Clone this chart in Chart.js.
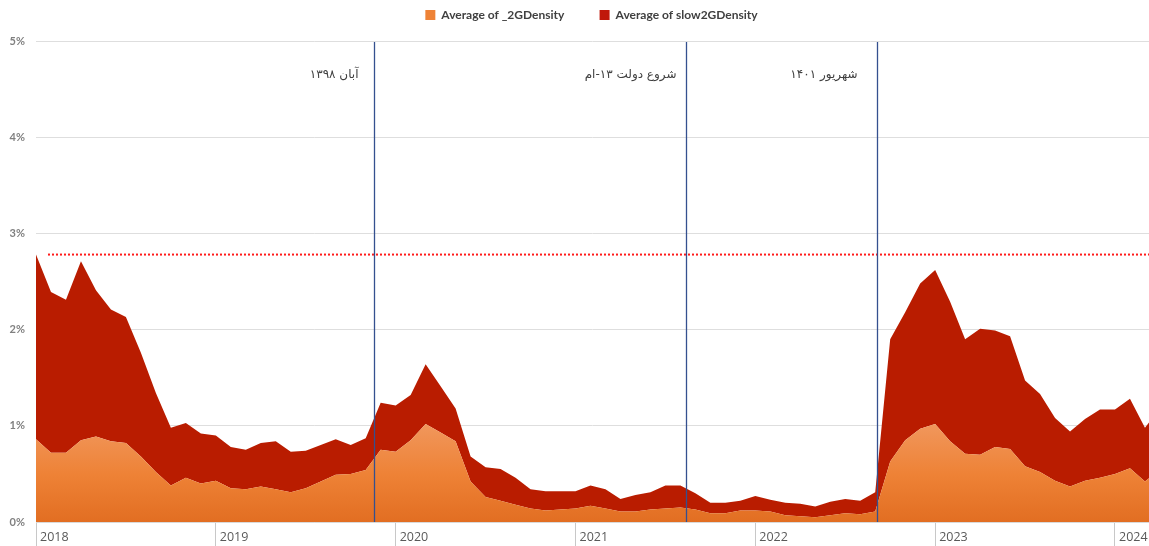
<!DOCTYPE html>
<html>
<head>
<meta charset="utf-8">
<title>2G density</title>
<script src="https://cdn.jsdelivr.net/npm/chart.js@4.4.1/dist/chart.umd.min.js"></script>
<style>
    html, body { margin: 0; padding: 0; background: #fff; }
    #wrap { width: 1149px; height: 546px; position: relative; }
</style>
</head>
<body>
<div id="wrap"><canvas id="densityChart"></canvas></div>
<script>
// Monthly averages from Jan 2018 (index 0), values in percent
const yearLabels = ['2018', '2019', '2020', '2021', '2022', '2023', '2024'];

const density2G = [
    0.86, 0.72, 0.72, 0.85, 0.89, 0.84, 0.82, 0.68, 0.52, 0.38, 0.46, 0.40,
    0.43, 0.35, 0.34, 0.37, 0.34, 0.31, 0.35, 0.42, 0.49, 0.50, 0.54, 0.75,
    0.73, 0.85, 1.02, 0.93, 0.84, 0.42, 0.26, 0.22, 0.18, 0.14, 0.12, 0.13,
    0.14, 0.17, 0.14, 0.11, 0.11, 0.13, 0.14, 0.15, 0.13, 0.09, 0.09, 0.12,
    0.12, 0.11, 0.07, 0.06, 0.05, 0.07, 0.09, 0.08, 0.11, 0.63, 0.85, 0.97,
    1.02, 0.84, 0.71, 0.70, 0.78, 0.76, 0.58, 0.52, 0.43, 0.37, 0.43, 0.46,
    0.50, 0.56, 0.42, 0.55
];

const slow2GDensity = [
    1.92, 1.67, 1.59, 1.86, 1.52, 1.37, 1.31, 1.08, 0.82, 0.60, 0.57, 0.52,
    0.47, 0.43, 0.41, 0.45, 0.50, 0.42, 0.39, 0.38, 0.37, 0.30, 0.33, 0.49,
    0.48, 0.47, 0.62, 0.48, 0.34, 0.26, 0.31, 0.33, 0.28, 0.20, 0.20, 0.19,
    0.18, 0.21, 0.20, 0.13, 0.17, 0.18, 0.24, 0.23, 0.17, 0.11, 0.11, 0.10,
    0.15, 0.12, 0.13, 0.13, 0.11, 0.14, 0.15, 0.14, 0.20, 1.27, 1.33, 1.51,
    1.60, 1.45, 1.19, 1.31, 1.21, 1.17, 0.89, 0.81, 0.65, 0.57, 0.64, 0.71,
    0.67, 0.72, 0.56, 0.63
];

const thresholdValue = 2.78;

// vertical event markers (month index) with their Persian captions
const events = [
    { month: 22.55, label: 'آبان ۱۳۹۸', gap: 16 },
    { month: 43.4, label: 'شروع دولت ۱۳-ام', gap: 10 },
    { month: 56.15, label: 'شهریور ۱۴۰۱', gap: 20 }
];

const xMax = 74.27;

const toPoints = arr => arr.map((v, i) => ({ x: i, y: v }));

// orange fill gets lighter toward the top like the original
function orangeFill(context) {
    const chart = context.chart;
    const area = chart.chartArea;
    if (!area) return '#ee8236';
    const top = chart.scales.y.getPixelForValue(1.1);
    const g = chart.ctx.createLinearGradient(0, top, 0, area.bottom);
    g.addColorStop(0, '#f19a62');
    g.addColorStop(0.55, '#ee8236');
    g.addColorStop(1, '#e26e22');
    return g;
}

const eventLines = {
    id: 'eventLines',
    afterDatasetsDraw(chart) {
        const { ctx, chartArea, scales } = chart;
        ctx.save();
        events.forEach(ev => {
            const x = Math.round(scales.x.getPixelForValue(ev.month)) + 0.5;
            ctx.strokeStyle = '#34508f';
            ctx.lineWidth = 1.3;
            ctx.beginPath();
            ctx.moveTo(x, chartArea.top + 1);
            ctx.lineTo(x, chartArea.bottom);
            ctx.stroke();

            ctx.direction = 'rtl';
            ctx.font = '12px "DejaVu Sans", "Noto Sans", sans-serif';
            ctx.fillStyle = '#404040';
            ctx.textAlign = 'right';
            ctx.textBaseline = 'middle';
            ctx.fillText(ev.label, x - ev.gap, 75);
        });
        ctx.restore();
    }
};

// extra room under the legend so the plot starts at the 5% line,
// and nudge the legend a bit right of the canvas centre
const legendSpace = {
    id: 'legendSpace',
    beforeInit(chart) {
        const legend = chart.legend;
        const fit = legend.fit;
        legend.fit = function() {
            fit.apply(legend, arguments);
            this.height += 10;
        };
        const draw = legend.draw;
        legend.draw = function() {
            chart.ctx.save();
            chart.ctx.translate(17, 0);
            draw.apply(legend, arguments);
            chart.ctx.restore();
        };
    }
};

const ctx = document.getElementById('densityChart').getContext('2d');
const densityChart = new Chart(ctx, {
    type: 'line',
    data: {
        datasets: [
            {
                label: 'Average of _2GDensity',
                data: toPoints(density2G),
                backgroundColor: orangeFill,
                borderWidth: 0,
                pointRadius: 0,
                fill: 'origin',
                stack: 'density'
            },
            {
                label: 'Average of slow2GDensity',
                data: toPoints(slow2GDensity),
                backgroundColor: '#b91c00',
                borderWidth: 0,
                pointRadius: 0,
                fill: '-1',
                stack: 'density'
            },
            {
                label: 'threshold',
                data: [{ x: 0.8, y: thresholdValue }, { x: xMax, y: thresholdValue }],
                borderColor: '#ff1a1a',
                borderWidth: 2,
                borderDash: [2, 2],
                pointRadius: 0,
                fill: false,
                stack: 'threshold'
            }
        ]
    },
    options: {
        responsive: true,
        maintainAspectRatio: false,
        animation: false,
        layout: { padding: 0 },
        plugins: {
            tooltip: { enabled: false },
            legend: {
                position: 'top',
                labels: {
                    boxWidth: 10,
                    boxHeight: 10,
                    padding: 9,
                    color: '#404040',
                    font: { family: 'Lato', size: 12, weight: 'bold' },
                    filter: item => item.text.indexOf('threshold') === -1,
                    generateLabels: chart => {
                        const items = Chart.defaults.plugins.legend.labels.generateLabels(chart);
                        const solid = ['#ee8236', '#c0180a'];
                        items.forEach(it => {
                            if (it.datasetIndex < 2) {
                                it.fillStyle = solid[it.datasetIndex];
                                it.strokeStyle = solid[it.datasetIndex];
                                it.lineWidth = 0;
                            }
                            // wider gap between the two entries
                            if (it.datasetIndex === 0) it.text += '         ';
                        });
                        return items;
                    }
                }
            }
        },
        scales: {
            x: {
                type: 'linear',
                min: 0,
                max: xMax,
                grid: {
                    drawOnChartArea: false,
                    drawTicks: true,
                    tickLength: 24,
                    color: '#c8c8c8'
                },
                border: { display: true, color: '#d9d9d9' },
                ticks: {
                    stepSize: 12,
                    includeBounds: false,
                    autoSkip: false,
                    maxRotation: 0,
                    align: 'start',
                    labelOffset: 4,
                    padding: -16,
                    color: '#595959',
                    font: { family: 'Open Sans', size: 12.5 },
                    callback: value => value % 12 === 0 ? yearLabels[value / 12] : ''
                },
                afterFit: scale => {
                    scale.height = 24;
                    scale.paddingLeft = 0;
                    scale.paddingRight = 0;
                }
            },
            y: {
                stacked: true,
                min: 0,
                max: 5,
                grid: {
                    color: '#dedede',
                    drawTicks: false
                },
                border: { display: false },
                ticks: {
                    stepSize: 1,
                    padding: 11,
                    color: '#808080',
                    font: { family: 'Lato', size: 11, weight: 'bold' },
                    callback: value => value + '%'
                },
                afterFit: scale => {
                    scale.width = 36;
                }
            }
        }
    },
    plugins: [eventLines, legendSpace]
});
</script>
</body>
</html>
